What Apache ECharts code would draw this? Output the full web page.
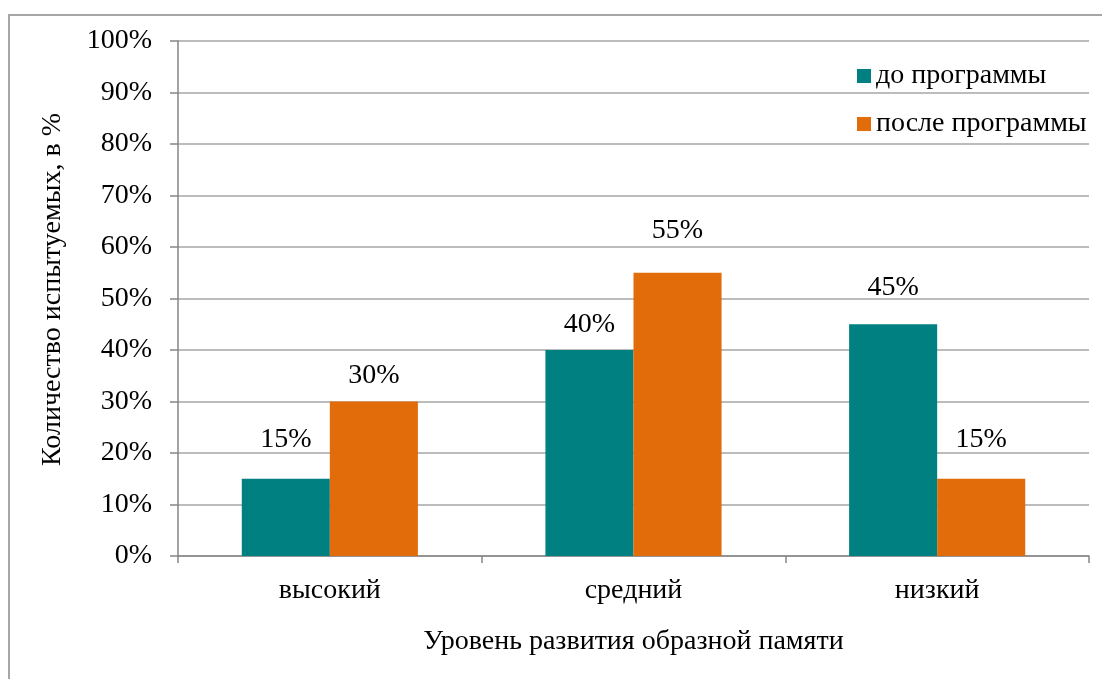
<!DOCTYPE html>
<html>
<head>
<meta charset="utf-8">
<script src="https://cdn.jsdelivr.net/npm/echarts@6/dist/echarts.min.js"></script>
<style>html,body{margin:0;padding:0;background:#fff;}#c{width:1102px;height:679px;}</style>
</head>
<body>
<div id="c"></div>
<script>
const categories = ['высокий', 'средний', 'низкий'];
const seriesNames = ['до программы', 'после программы'];
const beforeValues = [15, 40, 45];
const afterValues = [30, 55, 15];
const yTickLabels = ['0%','10%','20%','30%','40%','50%','60%','70%','80%','90%','100%'];
const yAxisTitle = 'Количество испытуемых, в %';
const xAxisTitle = 'Уровень развития образной памяти';

// label lift above bar tops (style only)
const beforeLift = [25, 11, 23];
const afterLift = [12, 28, 25];

const FONT = '"Liberation Serif", "Times New Roman", serif';
const FS = 28;
const chart = echarts.init(document.getElementById('c'));

function mk(vals, lifts) {
  return vals.map((v, i) => ({ value: v, label: { distance: lifts[i] } }));
}

chart.setOption({
  animation: false,
  backgroundColor: '#fff',
  textStyle: { fontFamily: FONT, color: '#000' },
  graphic: [{
    type: 'rect', silent: true, z: -1,
    shape: { x: 9, y: 15, width: 1300, height: 1000 },
    style: { fill: 'none', stroke: '#a6a6a6', lineWidth: 2 }
  }],
  legend: {
    orient: 'vertical', left: 857, top: 62, padding: 0,
    itemWidth: 14, itemHeight: 14, itemGap: 20,
    icon: 'rect',
    textStyle: { fontFamily: FONT, fontSize: FS, color: '#000' },
    data: seriesNames
  },
  grid: { left: 178, right: 13, top: 41, bottom: 123, containLabel: false },
  xAxis: {
    type: 'category', data: categories,
    name: xAxisTitle, nameLocation: 'middle', nameGap: 72,
    nameTextStyle: { fontFamily: FONT, fontSize: FS, color: '#000' },
    axisLine: { lineStyle: { color: '#868686', width: 1.5 } },
    axisTick: { show: true, length: 7, lineStyle: { color: '#868686', width: 1.5 } },
    axisLabel: { margin: 21, fontFamily: FONT, fontSize: FS, color: '#000' }
  },
  yAxis: {
    type: 'value', min: 0, max: 100, interval: 10,
    name: yAxisTitle, nameLocation: 'middle', nameGap: 111, nameRotate: 90,
    nameTextStyle: { fontFamily: FONT, fontSize: FS, color: '#000', padding: [0, 0, 0, 18] },
    axisLine: { show: true, lineStyle: { color: '#868686', width: 1.5 } },
    axisTick: { show: true, length: 8, lineStyle: { color: '#868686', width: 1.5 } },
    axisLabel: {
      margin: 26, fontFamily: FONT, fontSize: FS, color: '#000',
      formatter: v => yTickLabels[Math.round(v / 10)]
    },
    splitLine: { lineStyle: { color: '#a6a6a6', width: 1.5 } }
  },
  series: [
    {
      name: seriesNames[0], type: 'bar', data: mk(beforeValues, beforeLift),
      barGap: '0%', barCategoryGap: '42%',
      itemStyle: { color: '#008080' },
      label: { show: true, position: 'top', formatter: '{c}%', fontFamily: FONT, fontSize: FS, color: '#000' }
    },
    {
      name: seriesNames[1], type: 'bar', data: mk(afterValues, afterLift),
      barGap: '0%', barCategoryGap: '42%',
      itemStyle: { color: '#E36C0A' },
      label: { show: true, position: 'top', formatter: '{c}%', fontFamily: FONT, fontSize: FS, color: '#000' }
    }
  ]
});
</script>
</body>
</html>
